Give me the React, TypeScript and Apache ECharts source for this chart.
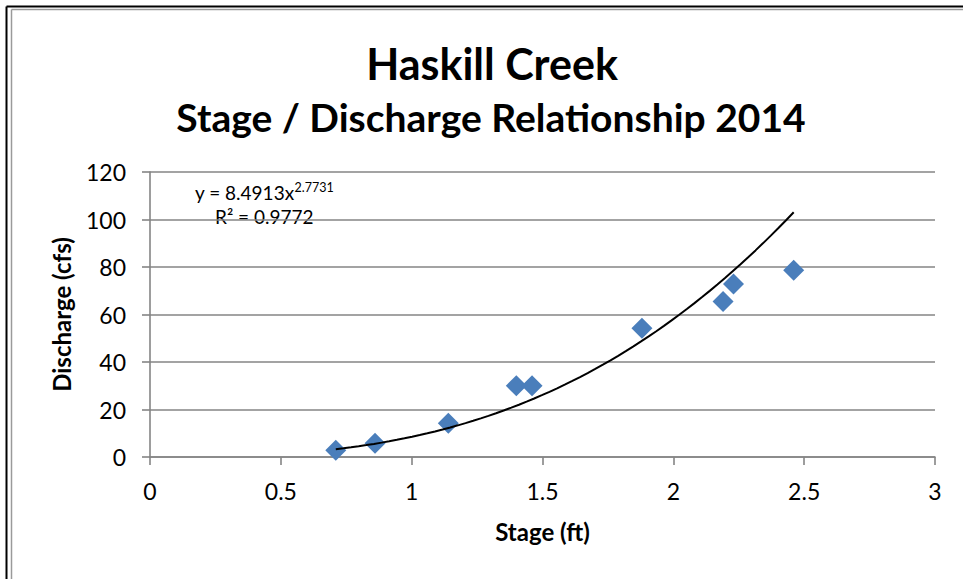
import React, { useEffect, useRef } from "react";
import * as echarts from "echarts";

const titleLines = ["Haskill Creek", "Stage / Discharge Relationship 2014"];
const xAxisName = "Stage (ft)";
const yAxisName = "Discharge (cfs)";
const stage = [0.71, 0.86, 1.14, 1.40, 1.46, 1.88, 2.19, 2.23, 2.46];
const discharge = [2.8, 5.8, 14.2, 30.0, 30.0, 54.2, 65.5, 72.8, 78.6];
const trendCoef = 8.4913;
const trendExp = 2.7731;
const rSquared = 0.9772;

export default function App() {
  const ref = useRef<HTMLDivElement>(null);
  useEffect(() => {
    if (!ref.current) return;
    const chart = echarts.init(ref.current, null, { renderer: "svg" });
    const xMin = Math.min(...stage);
    const xMax = Math.max(...stage);
    const trend: number[][] = [];
    const n = 60;
    for (let i = 0; i <= n; i++) {
      const x = xMin + ((xMax - xMin) * i) / n;
      trend.push([x, trendCoef * Math.pow(x, trendExp)]);
    }
    const font = "Lato, 'Open Sans', sans-serif";
    const gray = "#858585";
    chart.setOption({
      animation: false,
      backgroundColor: "#ffffff",
      textStyle: { fontFamily: font },
      grid: { left: 150, top: 172, right: 28, bottom: 122, containLabel: false },
      xAxis: {
        type: "value",
        min: 0,
        max: 3,
        interval: 0.5,
        name: xAxisName,
        nameLocation: "middle",
        nameGap: 62,
        nameTextStyle: { fontFamily: font, fontWeight: "bold", fontSize: 24, color: "#000" },
        axisLine: { show: true, lineStyle: { color: gray, width: 1.6 } },
        axisTick: { show: true, inside: false, length: 8, lineStyle: { color: gray, width: 1.6 } },
        axisLabel: { fontFamily: font, fontSize: 23, color: "#000", margin: 22 },
        splitLine: { show: false },
      },
      yAxis: {
        type: "value",
        min: 0,
        max: 120,
        interval: 20,
        name: yAxisName,
        nameLocation: "middle",
        nameGap: 77,
        nameRotate: 90,
        nameTextStyle: { fontFamily: font, fontWeight: "bold", fontSize: 24, color: "#000" },
        axisLine: { show: true, lineStyle: { color: gray, width: 1.6 } },
        axisTick: { show: true, inside: false, length: 8, lineStyle: { color: gray, width: 1.6 } },
        axisLabel: { fontFamily: font, fontSize: 23, color: "#000", margin: 24 },
        splitLine: { show: true, lineStyle: { color: gray, width: 1.6 } },
      },
      graphic: [
        { type: "line", shape: { x1: 6.5, y1: 6.5, x2: 963, y2: 6.5 }, style: { stroke: "#000", lineWidth: 2 } },
        { type: "line", shape: { x1: 6.5, y1: 6.5, x2: 6.5, y2: 579 }, style: { stroke: "#000", lineWidth: 2 } },
        { type: "line", shape: { x1: 11.5, y1: 9.5, x2: 963, y2: 9.5 }, style: { stroke: "#9a9a9a", lineWidth: 1.5 } },
        { type: "line", shape: { x1: 11.5, y1: 9.5, x2: 11.5, y2: 579 }, style: { stroke: "#9a9a9a", lineWidth: 1.5 } },
        {
          type: "text",
          x: 492,
          y: 63,
          style: {
            text: titleLines[0],
            font: `bold 43px ${font}`,
            fill: "#000",
            textAlign: "center",
            textVerticalAlign: "middle",
          },
        },
        {
          type: "text",
          x: 491,
          y: 117,
          style: {
            text: titleLines[1],
            font: `bold 39px ${font}`,
            fill: "#000",
            textAlign: "center",
            textVerticalAlign: "middle",
          },
        },
        {
          type: "text",
          x: 195,
          y: 192,
          style: {
            text: `{n|y = ${trendCoef}x}{s|${trendExp}}`,
            rich: {
              n: { fontFamily: font, fontSize: 19, fill: "#000", color: "#000" },
              s: { fontFamily: font, fontSize: 12.5, fill: "#000", color: "#000", verticalAlign: "top", padding: [0, 0, 10, 0] },
            },
            textVerticalAlign: "middle",
          },
        },
        {
          type: "text",
          x: 215,
          y: 216,
          style: {
            text: `R² = ${rSquared}`,
            font: `19px ${font}`,
            fill: "#000",
            textVerticalAlign: "middle",
          },
        },
      ],
      series: [
        {
          type: "scatter",
          data: stage.map((s, i) => [s, discharge[i]]),
          symbol: "diamond",
          symbolSize: [21, 21],
          itemStyle: { color: "#4a7ebb", opacity: 1 },
          z: 3,
        },
        {
          type: "line",
          data: trend,
          showSymbol: false,
          symbol: "none",
          lineStyle: { color: "#000", width: 2 },
          z: 4,
        },
      ],
    });
    return () => chart.dispose();
  }, []);
  return (
    <div
      ref={ref}
      style={{ position: "absolute", left: 0, top: 0, width: 963, height: 579 }}
    />
  );
}
